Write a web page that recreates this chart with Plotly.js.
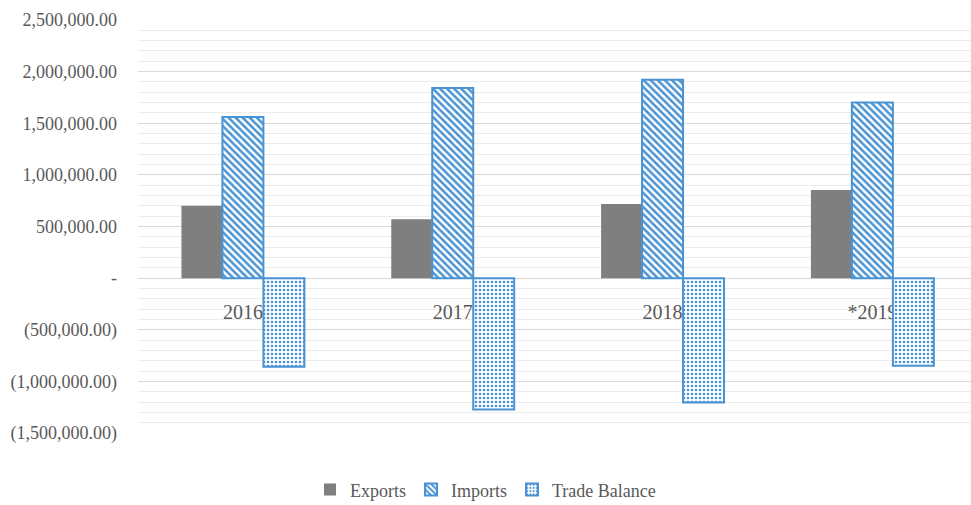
<!DOCTYPE html>
<html>
<head>
<meta charset="utf-8">
<script src="https://cdn.plot.ly/plotly-3.0.1.min.js"></script>
<style>html,body{margin:0;padding:0;background:#fff;}#chart{width:971px;height:505px;}</style>
</head>
<body>
<div id="chart"></div>
<script>
const years = ["2016", "2017", "2018", "*2019"];
const exportsVals = [702000, 570000, 718000, 854000];
const importsVals = [1560000, 1842000, 1922000, 1702000];
const balanceVals = [-858000, -1272000, -1204000, -848000];
const yTickVals = [2500000, 2000000, 1500000, 1000000, 500000, 0, -500000, -1000000, -1500000];
const yTickText = ["2,500,000.00", "2,000,000.00", "1,500,000.00", "1,000,000.00", "500,000.00", "-", "(500,000.00)", "(1,000,000.00)", "(1,500,000.00)"];

const blue = '#4a93d3';
const font = "'Liberation Serif', 'Times New Roman', serif";

const traces = [
  {type: 'bar', name: 'Exports', x: years, y: exportsVals,
   marker: {color: '#7f7f7f', line: {width: 0}}},
  {type: 'bar', name: 'Imports', x: years, y: importsVals,
   marker: {color: '#ffffff', line: {color: blue, width: 2},
            pattern: {shape: '\\', fgcolor: blue, bgcolor: '#ffffff', size: 5, solidity: 0.5}}},
  {type: 'bar', name: 'Trade Balance', x: years, y: balanceVals,
   marker: {color: '#ffffff', line: {color: blue, width: 2},
            pattern: {shape: '.', fgcolor: blue, bgcolor: '#ffffff', size: 4, solidity: 0.35}}}
];

const layout = {
  width: 971, height: 505,
  margin: {l: 138, r: 0, t: 20, b: 72, autoexpand: false},
  paper_bgcolor: '#ffffff', plot_bgcolor: '#ffffff',
  barmode: 'group', bargap: 0.414, bargroupgap: 0,
  showlegend: true,
  legend: {orientation: 'h', xref: 'container', yref: 'container', x: 0.5, xanchor: 'center',
           y: 0.03, yanchor: 'middle',
           font: {family: font, size: 18, color: '#595959'}, itemwidth: 30, traceorder: 'normal'},
  xaxis: {type: 'category', range: [-0.5, 3.47], anchor: 'free', position: 0.3753,
          showgrid: false, zeroline: false, showline: false, ticks: '',
          ticklabelstandoff: 20, layer: 'below traces', automargin: false,
          tickfont: {family: font, size: 20, color: '#595959'}, fixedrange: true},
  yaxis: {range: [-1500000, 2500000], tickvals: yTickVals, ticktext: yTickText,
          tickfont: {family: font, size: 18, color: '#595959'},
          ticklabelstandoff: 20, automargin: false,
          showgrid: true, gridcolor: '#d9d9d9', gridwidth: 1,
          zeroline: true, zerolinecolor: '#d9d9d9', zerolinewidth: 1,
          minor: {dtick: 100000, tick0: 0, showgrid: true, gridcolor: '#ececec', gridwidth: 1},
          showline: false, ticks: '', fixedrange: true}
};

Plotly.newPlot('chart', traces, layout, {displayModeBar: false, staticPlot: true});
</script>
</body>
</html>
